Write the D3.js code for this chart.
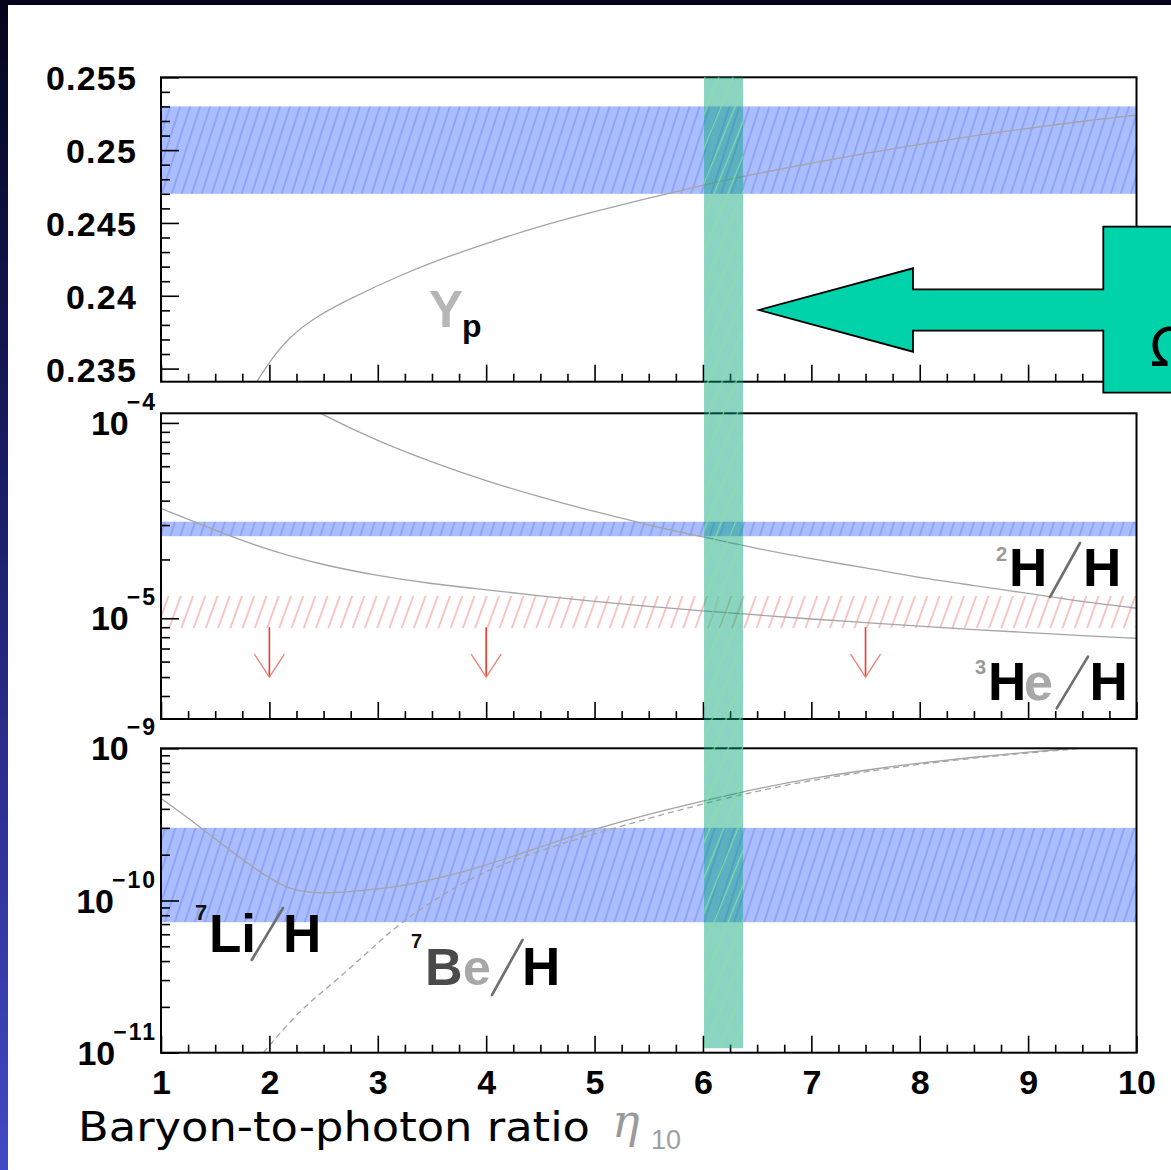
<!DOCTYPE html>
<html><head><meta charset="utf-8">
<script src="https://cdn.jsdelivr.net/npm/d3@7"></script>
<style>html,body{margin:0;padding:0;background:#fff;overflow:hidden}</style>
</head><body>
<svg id="chart" width="1171" height="1170"></svg>
<script>
// ---------------- DATA ----------------
const etaTicks = [1,2,3,4,5,6,7,8,9,10];
const etaTickLabels = ["1","2","3","4","5","6","7","8","9","10"];
const yTopTicks = [0.235,0.24,0.245,0.25,0.255];
const yTopTickLabels = ["0.235","0.24","0.245","0.25","0.255"];
const midTicks = [1e-5,1e-4];
const midTickExps = ["\u22125","\u22124"];
const botTicks = [1e-11,1e-10,1e-9];
const botTickExps = ["\u221211","\u221210","\u22129"];

// Helium-4 mass fraction Yp
const ypEta = [1.884,2.0,2.185,2.43,2.74,3.2,3.5,4,4.5,5,5.5,6,6.5,7,7.5,8,8.5,9,9.5,10];
const ypVal = [0.2341,0.23548,0.23719,0.23857,0.2398,0.24138,0.2423,0.2436,0.2448,0.2458,0.2467,0.2476,0.2484,0.2491,0.2498,0.2504,0.2510,0.2515,0.2520,0.2524];
// Deuterium D/H
const dhEta = [2.4,2.5,3,3.5,4,4.5,5,5.5,6,6.5,7,7.5,8,8.5,9,9.5,10];
const dhVal = [1.18e-4,1.10e-4,8.14e-5,6.32e-5,5.07e-5,4.18e-5,3.52e-5,3.01e-5,2.61e-5,2.28e-5,2.02e-5,1.81e-5,1.62e-5,1.47e-5,1.34e-5,1.22e-5,1.125e-5];
// Helium-3 3He/H
const he3Eta = [1,1.5,2,2.5,3,3.5,4,4.5,5,5.5,6,6.5,7,7.5,8,8.5,9,9.5,10];
const he3Val = [3.65e-5,2.82e-5,2.22e-5,1.87e-5,1.65e-5,1.5e-5,1.4e-5,1.3e-5,1.22e-5,1.15e-5,1.09e-5,1.04e-5,9.9e-6,9.5e-6,9.1e-6,8.75e-6,8.45e-6,8.15e-6,7.9e-6];
// Lithium-7 7Li/H (solid)
const liEta = [1,1.36,1.665,1.976,2.2,2.437,2.745,3.2,3.6,4,4.5,5,5.5,6,6.5,7,7.5,8,8.5,9,9.5];
const liVal = [4.69e-10,3.05e-10,2.05e-10,1.43e-10,1.17e-10,1.11e-10,1.14e-10,1.23e-10,1.42e-10,1.7e-10,2.25e-10,2.95e-10,3.7e-10,4.5e-10,5.45e-10,6.35e-10,7.2e-10,8.0e-10,8.75e-10,9.45e-10,1.01e-9];
// Beryllium-7 7Be/H (dashed)
const beEta = [1.945,2.28,2.59,2.9,3.2,3.6,4,4.5,5,5.5,6,6.5,7,7.5,8,8.5,9,9.5];
const beVal = [1.0e-11,1.91e-11,2.87e-11,4.52e-11,7.11e-11,1.10e-10,1.58e-10,2.14e-10,2.74e-10,3.47e-10,4.32e-10,5.25e-10,6.17e-10,7.03e-10,7.87e-10,8.63e-10,9.33e-10,1.0e-9];

// Observational bands
const ypBand = [0.247, 0.253];
const dhBand = [2.63e-5, 3.12e-5];
const he3Limit = [8.9e-6, 1.3e-5];
const he3ArrowEta = [2, 4, 7.5];
const he3ArrowFrom = 9.0e-6, he3ArrowTo = 5.0e-6;
const liBand = [7.2e-11, 3.0e-10];
const etaBand = [6.01, 6.37];

// ---------------- LAYOUT ----------------
const W = 1171, H = 1170;
const FONT = "'Liberation Sans', Arial, Helvetica, sans-serif";
const svg = d3.select("#chart");
const defs = svg.append("defs");

const grad = defs.append("linearGradient").attr("id","bg").attr("x1",0).attr("y1",0).attr("x2",0).attr("y2",1);
grad.append("stop").attr("offset","0").attr("stop-color","#04041c");
grad.append("stop").attr("offset","0.45").attr("stop-color","#1d1f6c");
grad.append("stop").attr("offset","1").attr("stop-color","#4348c6");
svg.append("rect").attr("width",W).attr("height",H).attr("fill","url(#bg)");
svg.append("rect").attr("x",8).attr("y",5).attr("width",W-8).attr("height",H-5).attr("fill","#fff");

function hatch(id, spacing, angle, color, width, bg) {
  const p = defs.append("pattern").attr("id", id).attr("patternUnits","userSpaceOnUse")
    .attr("width", spacing).attr("height", spacing).attr("patternTransform", `rotate(${angle})`);
  if (bg) p.append("rect").attr("width", spacing).attr("height", spacing).attr("fill", bg);
  p.append("line").attr("x1", spacing/2).attr("y1", -1).attr("x2", spacing/2).attr("y2", spacing+1)
    .attr("stroke", color).attr("stroke-width", width);
}
hatch("hBlue", 9.5, 18, "#8198f6", 1.3, "#aabdfe");
hatch("hRed", 11.5, 20, "#f5a7a2", 1.3, null);
hatch("hGreen", 13, 22, "#86e0a6", 1.3, null);

const panels = [
  {y0: 77.3, y1: 381.7},
  {y0: 413.3, y1: 719},
  {y0: 748.3, y1: 1052.7}
];
const X0 = 161, X1 = 1136.5;

const x = d3.scaleLinear().domain([1,10]).range([X0, X1]);
const yTop = d3.scaleLinear().domain([0.2341,0.255]).range([panels[0].y1, panels[0].y0]);
const yMid = d3.scaleLog().domain([3.05e-6,1.12e-4]).range([panels[1].y1, panels[1].y0]);
const yBot = d3.scaleLog().domain([1e-11,1e-9]).range([panels[2].y1, panels[2].y0]);

panels.forEach((p,i) => {
  defs.append("clipPath").attr("id","clip"+i).append("rect")
    .attr("x",X0).attr("y",p.y0).attr("width",X1-X0).attr("height",p.y1-p.y0);
});

// ---------------- BANDS ----------------
function hband(ys, range, fill, pi) {
  svg.append("rect").attr("x", x(1)).attr("width", x(10)-x(1))
    .attr("y", ys(range[1])).attr("height", ys(range[0]) - ys(range[1]))
    .attr("fill", fill).attr("clip-path", `url(#clip${pi})`);
}
hband(yTop, ypBand, "url(#hBlue)", 0);
hband(yMid, dhBand, "url(#hBlue)", 1);
hband(yMid, he3Limit, "url(#hRed)", 1);
hband(yBot, liBand, "url(#hBlue)", 2);

// ---------------- CURVES ----------------
function curve(ys, etas, vals, pi, dash, interp) {
  const data = etas.map((e,i) => [e, vals[i]]);
  const line = d3.line().x(d => x(d[0])).y(d => ys(d[1])).curve(interp || d3.curveCatmullRom.alpha(0.5));
  svg.append("path").datum(data).attr("d", line).attr("fill","none")
    .attr("stroke","#a4a4a4").attr("stroke-width",1.3)
    .attr("stroke-dasharray", dash || null)
    .attr("clip-path", `url(#clip${pi})`);
}
curve(yTop, ypEta, ypVal, 0, null, d3.curveBasis);
curve(yMid, dhEta, dhVal, 1);
curve(yMid, he3Eta, he3Val, 1, null, d3.curveBasis);
curve(yBot, liEta, liVal, 2, null, d3.curveBasis);
curve(yBot, beEta, beVal, 2, "6,4", d3.curveBasis);

// red upper-limit arrows
he3ArrowEta.forEach(e => {
  const xa = x(e), ya = yMid(he3ArrowFrom), yb = yMid(he3ArrowTo);
  svg.append("line").attr("x1",xa).attr("x2",xa).attr("y1",ya).attr("y2",yb)
    .attr("stroke","#ee3a2a").attr("stroke-width",1.6);
  svg.append("path").attr("d", `M${xa-15},${yb-23}L${xa},${yb}L${xa+15},${yb-23}`)
    .attr("fill","none").attr("stroke","#f27d6e").attr("stroke-width",1.3);
});

// ---------------- AXES ----------------
const xMinor = d3.range(1, 10.001, 0.25).filter(v => Math.abs(v - Math.round(v)) > 1e-6);
const topMinor = d3.range(0.235, 0.2555, 0.001).filter(v => Math.abs(v*200 - Math.round(v*200)) > 1e-6);
const midMinor = yMid.ticks().filter(v => Math.abs(Math.log10(v) - Math.round(Math.log10(v))) > 1e-6);
const botMinor = yBot.ticks().filter(v => Math.abs(Math.log10(v) - Math.round(Math.log10(v))) > 1e-6);

function styleAxis(g) {
  g.select(".domain").remove();
  g.selectAll(".tick line").attr("stroke","#000").attr("stroke-width",1.6);
  g.attr("font-family", FONT).attr("font-weight","bold").attr("font-size",34).attr("fill","#000");
  g.selectAll("text").attr("fill","#000");
}

panels.forEach((p,i) => {
  svg.append("g").attr("transform",`translate(0,${p.y1})`)
    .call(d3.axisBottom(x).tickValues(xMinor).tickSize(-8).tickFormat(""))
    .call(styleAxis);
  svg.append("g").attr("transform",`translate(0,${p.y1})`)
    .call(d3.axisBottom(x).tickValues(etaTicks).tickSize(-17).tickPadding(17)
      .tickFormat((d,k) => i === 2 ? etaTickLabels[k] : ""))
    .call(styleAxis);
});

// top y axis
svg.append("g").attr("transform",`translate(${X0},0)`)
  .call(d3.axisLeft(yTop).tickValues(topMinor).tickSize(-9).tickFormat(""))
  .call(styleAxis);
svg.append("g").attr("transform",`translate(${X0},0)`)
  .call(d3.axisLeft(yTop).tickValues(yTopTicks).tickSize(-18).tickPadding(24)
    .tickFormat((d,k) => yTopTickLabels[k]))
  .call(styleAxis)
  .call(g => g.selectAll("text").attr("dy","0.37em").attr("letter-spacing","1.2"));

function logAxis(ys, minor, major, exps) {
  svg.append("g").attr("transform",`translate(${X0},0)`)
    .call(d3.axisLeft(ys).tickValues(minor).tickSize(-9).tickFormat(""))
    .call(styleAxis);
  svg.append("g").attr("transform",`translate(${X0},0)`)
    .call(d3.axisLeft(ys).tickValues(major).tickSize(-18).tickPadding(4).tickFormat(""))
    .call(styleAxis)
    .call(g => g.selectAll("text").attr("dy","11.5").each(function(d,k) {
      const t = d3.select(this);
      t.append("tspan").text("10");
      t.append("tspan").attr("dx",-2).attr("dy",-25).attr("font-size",23).attr("letter-spacing","2").text(exps[k]);
    }));
}
logAxis(yMid, midMinor, midTicks, midTickExps);
logAxis(yBot, botMinor, botTicks, botTickExps);

// frames
panels.forEach(p => {
  svg.append("rect").attr("x",X0).attr("y",p.y0).attr("width",X1-X0).attr("height",p.y1-p.y0)
    .attr("fill","none").attr("stroke","#000").attr("stroke-width",2);
});

// vertical eta band (CMB)
const gy0 = panels[0].y0, gy1 = panels[2].y1 - 4.5;
svg.append("rect").attr("x", x(etaBand[0])).attr("width", x(etaBand[1]) - x(etaBand[0]))
  .attr("y", gy0).attr("height", gy1 - gy0).attr("fill","rgb(0,160,120)").attr("fill-opacity",0.45);
svg.append("rect").attr("x", x(etaBand[0])).attr("width", x(etaBand[1]) - x(etaBand[0]))
  .attr("y", gy0).attr("height", gy1 - gy0).attr("fill","url(#hGreen)").attr("opacity",0.85);

// ---------------- LABELS ----------------
function txt(t, xx, yy, size, color, weight, fam, style) {
  return svg.append("text").attr("x",xx).attr("y",yy).attr("font-size",size)
    .attr("font-family", fam || FONT).attr("font-weight", weight || "bold")
    .attr("font-style", style || "normal").attr("fill", color).text(t);
}
function slash(x1, y1, x2, y2) {
  svg.append("line").attr("x1",x1).attr("y1",y1).attr("x2",x2).attr("y2",y2)
    .attr("stroke","#6e6e6e").attr("stroke-width",2.6).attr("stroke-linecap","round");
}
// Yp
txt("Y", 429, 327, 51, "#b6b6b6");
txt("p", 462, 337, 32, "#000");
// 2H/H
txt("2", 996, 561, 20, "#9a9a9a");
txt("H", 1009, 585.5, 53, "#000");
slash(1050, 597, 1080, 543);
txt("H", 1083, 585.5, 53, "#000");
// 3He/H
txt("3", 975, 674, 20, "#9a9a9a");
txt("H", 988, 700, 53, "#000");
txt("e", 1024, 700, 52, "#a8a8a8");
slash(1056.7, 708.3, 1088, 656.7);
txt("H", 1089.5, 700, 53, "#000");
// 7Li/H
txt("7", 195, 920, 22, "#111");
txt("Li", 209, 952, 53, "#000");
slash(251.7, 960, 283, 908);
txt("H", 283, 952, 53, "#000");
// 7Be/H
txt("7", 411, 948, 20, "#111");
txt("B", 425, 985, 52, "#4a4a4a");
txt("e", 463, 985, 50, "#a8a8a8");
slash(492, 995, 522.5, 940);
txt("H", 522, 985, 53, "#000");

// x-axis title
svg.append("text").attr("x",78).attr("y",1141).attr("font-family","'DejaVu Sans', sans-serif")
  .attr("font-size",41).attr("textLength",512).attr("lengthAdjust","spacingAndGlyphs")
  .attr("fill","#000").text("Baryon-to-photon ratio");
txt("\u03b7", 612, 1137, 46, "#9a9a9a", "normal", "'DejaVu Serif', serif", "italic");
txt("10", 651, 1149, 27, "#a0a0a0", "normal");

// ---------------- ARROW ANNOTATION ----------------
const arrowPts = [[759,310],[913,268.3],[913,289.3],[1103.3,289.3],[1103.3,226.7],[1180,226.7],
                  [1180,392.7],[1103.3,392.7],[1103.3,330.7],[913,330.7],[913,351.7]];
svg.append("path").attr("d", "M" + arrowPts.map(p => p.join(",")).join("L") + "Z")
  .attr("fill","#00d2aa").attr("stroke","#000").attr("stroke-width",1.8).attr("stroke-linejoin","miter");
txt("\u03a9", 1150, 366, 53, "#000", "normal", "'DejaVu Sans', sans-serif");
</script>
</body></html>
